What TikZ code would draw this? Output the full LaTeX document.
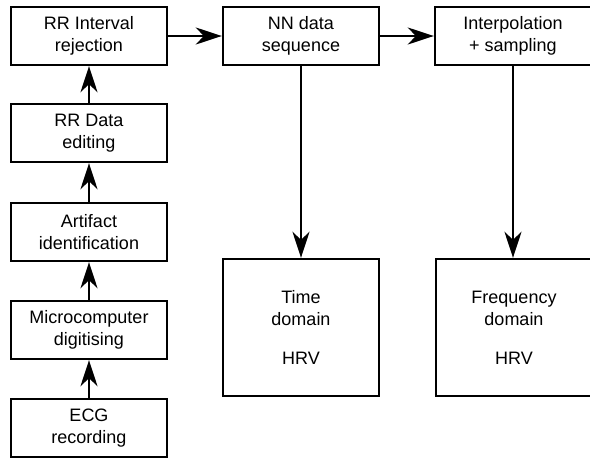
\documentclass[tikz,border=0pt]{standalone}
\usepackage{fontspec}
\setmainfont{Liberation Sans}
\usetikzlibrary{arrows.meta}
\begin{document}
\begin{tikzpicture}[x=1pt,y=-1pt,
  box/.style={draw,line width=2.4pt,rectangle,minimum width=156pt,minimum height=58pt,
    align=center,font=\fontsize{18pt}{22pt}\selectfont,inner sep=0pt},
  bigbox/.style={box,minimum height=137pt},
  arr/.style={line width=2.4pt,-{Stealth[length=26pt,width=17pt,inset=8pt]}}]
\useasboundingbox (0,0) rectangle (590,458);
\clip (0,0) rectangle (590,458);
\node[box] (rej) at (89,36) {RR Interval\\rejection};
\node[box] (edit) at (89,133) {RR Data\\editing};
\node[box] (art) at (89,232) {Artifact\\identification};
\node[box] (micro) at (89,330) {Microcomputer\\digitising};
\node[box] (ecg) at (89,428) {ECG\\recording};
\node[box] (nn) at (301,36) {NN data\\sequence};
\node[box] (interp) at (513,36) {Interpolation\\+ sampling};
\node[bigbox] (time) at (301,327.5) {Time\\domain\\[17pt]HRV};
\node[bigbox] (freq) at (514,327.5) {Frequency\\domain\\[17pt]HRV};
\draw[arr] (ecg) -- (micro);
\draw[arr] (micro) -- (art);
\draw[arr] (art) -- (edit);
\draw[arr] (edit) -- (rej);
\draw[arr] (rej) -- (nn);
\draw[arr] (nn) -- (interp);
\draw[arr] (nn) -- (time);
\draw[arr] (interp) -- (interp |- freq.north);
\end{tikzpicture}
\end{document}
